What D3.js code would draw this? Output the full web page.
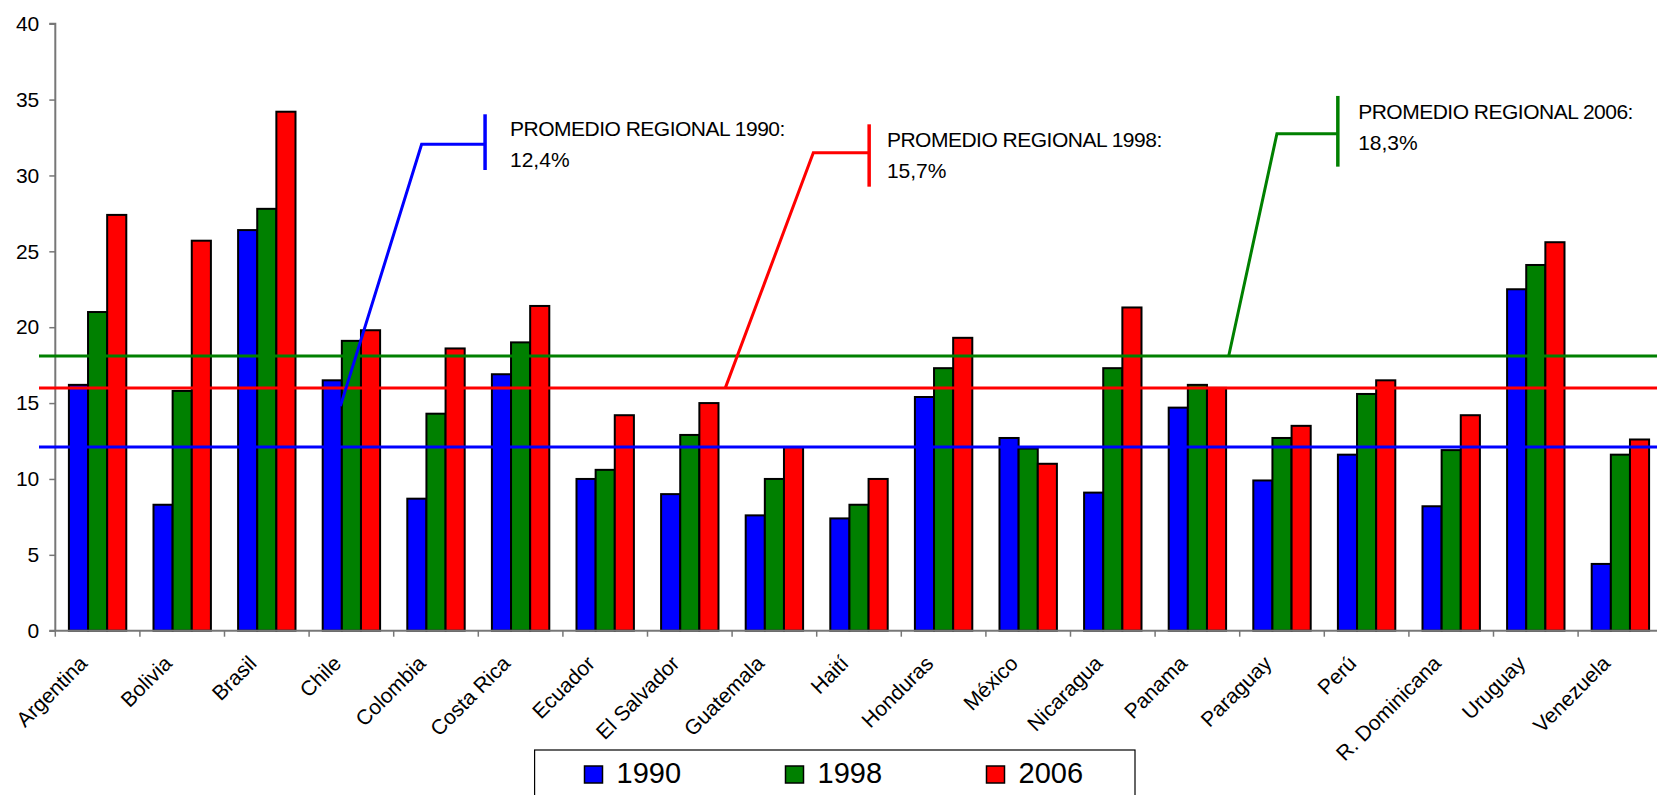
<!DOCTYPE html>
<html><head><meta charset="utf-8">
<script src="https://cdn.jsdelivr.net/npm/d3@7"></script>
<style>
html,body{margin:0;padding:0;background:#fff;overflow:hidden}
svg{display:block;font-family:"Liberation Sans",Arial,sans-serif}
</style></head><body>
<svg id="chart" width="1657" height="795"></svg>
<script>
// ---- data ----
const categories = ["Argentina","Bolivia","Brasil","Chile","Colombia","Costa Rica","Ecuador","El Salvador","Guatemala","Haití","Honduras","México","Nicaragua","Panama","Paraguay","Perú","R. Dominicana","Uruguay","Venezuela"];
const seriesNames = ["1990","1998","2006"];
const values1990 = [16.2,8.3,26.4,16.5,8.7,16.9,10.0,9.0,7.6,7.4,15.4,12.7,9.1,14.7,9.9,11.6,8.2,22.5,4.4];
const values1998 = [21.0,15.8,27.8,19.1,14.3,19.0,10.6,12.9,10.0,8.3,17.3,12.0,17.3,16.2,12.7,15.6,11.9,24.1,11.6];
const values2006 = [27.4,25.7,34.2,19.8,18.6,21.4,14.2,15.0,12.1,10.0,19.3,11.0,21.3,16.0,13.5,16.5,14.2,25.6,12.6];
const yTicks = [0,5,10,15,20,25,30,35,40];
const averageValues = [12.1, 16.0, 18.1];
const averageTitles = ["PROMEDIO REGIONAL 1990:","PROMEDIO REGIONAL 1998:","PROMEDIO REGIONAL 2006:"];
const averageLabels = ["12,4%","15,7%","18,3%"];

// ---- annotation anchors in data space (category index, value) ----
const leaderPoints = [
  [[3.37,14.8],[4.33,32.05],[5.08,32.05]],
  [[7.92,16.0],[8.96,31.5],[9.62,31.5]],
  [[13.87,18.1],[14.44,32.75],[15.16,32.75]]
];
const leaderBars = [[5.08,30.36,34.03],[9.62,29.26,33.37],[15.16,30.58,35.24]];
const labelAnchors = [[5.375,32.6,30.58],[9.83,31.9,29.85],[15.40,33.71,31.67]];

// ---- styles / layout ----
const colors = ["#0000ff","#008000","#ff0000"];
const annColors = ["#0000ff","#ff0000","#008000"];
const plotLeft = 55.3, plotTop = 23.7, plotBottom = 630.7, bandStep = 84.6;
const plotRight = plotLeft + bandStep * categories.length;

const svg = d3.select("#chart");
const y = d3.scaleLinear().domain([0,40]).range([plotBottom, plotTop]);
const x0 = d3.scaleBand().domain(categories).range([plotLeft, plotRight]).paddingInner(0.3215).paddingOuter(0.16075);
const x1 = d3.scaleBand().domain(seriesNames).range([0, x0.bandwidth()]);
const xi = d3.scaleLinear().domain([0, categories.length]).range([plotLeft, plotRight]);

const seriesValues = [values1990, values1998, values2006];
const rows = categories.map((c,i)=>({c, vals: seriesNames.map((s,k)=>({s, k, v: seriesValues[k][i]}))}));

// bars
const g = svg.append("g");
g.selectAll("g.grp").data(rows).join("g").attr("class","grp")
  .attr("transform", d=>`translate(${x0(d.c)},0)`)
  .selectAll("rect").data(d=>d.vals).join("rect")
  .attr("x", d=>x1(d.s)).attr("width", x1.bandwidth())
  .attr("y", d=>y(d.v)).attr("height", d=>y(0)-y(d.v))
  .attr("fill", d=>colors[d.k]).attr("stroke","#000").attr("stroke-width",2);

// y axis
const ya = svg.append("g").attr("transform",`translate(${plotLeft},0)`)
  .call(d3.axisLeft(y).tickValues(yTicks).tickSize(6).tickPadding(10).tickFormat(d3.format("d")));
ya.select(".domain").attr("stroke","#777").attr("stroke-width",2).attr("d",`M-6,${plotTop}H0V${plotBottom}`);
ya.selectAll(".tick line").attr("stroke","#777").attr("stroke-width",1.5);
ya.selectAll(".tick text").attr("font-size",21).attr("fill","#000").attr("font-family","Liberation Sans, Arial, sans-serif");

// x axis line and boundary ticks
svg.append("line").attr("x1", plotLeft-6).attr("x2", plotRight).attr("y1", y(0)).attr("y2", y(0))
  .attr("stroke","#777").attr("stroke-width",2);
svg.append("g").selectAll("line").data(d3.range(0, categories.length+1)).join("line")
  .attr("x1", d=>xi(d)).attr("x2", d=>xi(d)).attr("y1", y(0)).attr("y2", y(0)+6)
  .attr("stroke","#777").attr("stroke-width",1.5);

// category labels
svg.append("g").selectAll("text").data(categories).join("text")
  .attr("transform", d=>`translate(${x0(d)+x0.bandwidth()/2-9},${y(0)+34}) rotate(-45)`)
  .attr("text-anchor","end").attr("font-size",21).attr("fill","#000").text(d=>d);

// average lines
svg.append("g").selectAll("line").data(averageValues).join("line")
  .attr("x1", 39).attr("x2", 1700).attr("y1", d=>y(d)).attr("y2", d=>y(d))
  .attr("stroke", (d,i)=>annColors[i]).attr("stroke-width",3);

// leaders
const lineGen = d3.line().x(p=>xi(p[0])).y(p=>y(p[1]));
svg.append("g").selectAll("path").data(leaderPoints).join("path")
  .attr("d", lineGen).attr("fill","none").attr("stroke",(d,i)=>annColors[i]).attr("stroke-width",3);
svg.append("g").selectAll("line").data(leaderBars).join("line")
  .attr("x1", d=>xi(d[0])).attr("x2", d=>xi(d[0])).attr("y1", d=>y(d[1])).attr("y2", d=>y(d[2]))
  .attr("stroke",(d,i)=>annColors[i]).attr("stroke-width",3.5);

// labels
const lab = svg.append("g");
labelAnchors.forEach((a,i)=>{
  lab.append("text").attr("x", xi(a[0])).attr("y", y(a[1])).attr("font-size",21)
    .attr("letter-spacing","-0.5px").attr("fill","#000").text(averageTitles[i]);
  lab.append("text").attr("x", xi(a[0])).attr("y", y(a[2])).attr("font-size",21)
    .attr("fill","#000").text(averageLabels[i]);
});

// legend
const lg = svg.append("g");
lg.append("rect").attr("x",534.6).attr("y",750).attr("width",600.4).attr("height",60)
  .attr("fill","#fff").attr("stroke","#000").attr("stroke-width",1.2);
const items = lg.selectAll("g").data(seriesNames).join("g")
  .attr("transform",(d,i)=>`translate(${584.5+i*201},0)`);
items.append("rect").attr("x",0).attr("y",766).attr("width",18).attr("height",17)
  .attr("fill",(d,i)=>colors[i]).attr("stroke","#000").attr("stroke-width",1.5);
items.append("text").attr("x",32).attr("y",783.3).attr("font-size",29).attr("fill","#000").text(d=>d);
</script>
</body></html>
